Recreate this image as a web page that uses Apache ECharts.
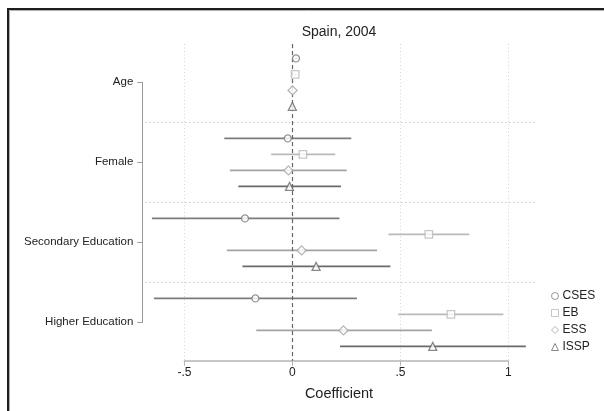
<!DOCTYPE html>
<html>
<head>
<meta charset="utf-8">
<script src="https://cdn.jsdelivr.net/npm/echarts@6/dist/echarts.min.js"></script>
<style>html,body{margin:0;padding:0;background:#fff}#c{width:604px;height:411px}</style>
</head>
<body>
<div id="c"></div>
<script>
// Variables (groups, top to bottom) and surveys (within each group)
const variables = ['Age', 'Female', 'Secondary Education', 'Higher Education'];
const surveys = ['CSES', 'EB', 'ESS', 'ISSP'];
// [coefficient, lower CI, upper CI] per variable
const CSES = [[0.017, 0.011, 0.023], [-0.021, -0.315, 0.273], [-0.219, -0.650, 0.218], [-0.171, -0.641, 0.299]];
const EB   = [[0.013, 0.007, 0.019], [0.049, -0.098, 0.199], [0.632, 0.445, 0.819], [0.734, 0.490, 0.977]];
const ESS  = [[0.001, -0.004, 0.006], [-0.018, -0.289, 0.252], [0.043, -0.303, 0.392], [0.237, -0.167, 0.646]];
const ISSP = [[0.000, -0.005, 0.005], [-0.013, -0.250, 0.225], [0.110, -0.231, 0.454], [0.650, 0.221, 1.081]];
const xTicks = [-0.5, 0, 0.5, 1];
const xTickLabels = ['-.5', '0', '.5', '1'];

const surveyData = [CSES, EB, ESS, ISSP];
const colors = ['#7c7c7c', '#b9b9b9', '#a3a3a3', '#6a6a6a'];
const symbols = ['circle', 'rect', 'diamond', 'triangle'];
const symSizes = [7, 7.5, 9, 8];
const slot = surveys.length + 1;

const series = [];
surveyData.forEach((arr, s) => {
  const pts = arr.map((d, v) => [d[0], v * slot + s, d[1], d[2]]);
  series.push({
    type: 'custom', name: surveys[s] + '_ci', xAxisIndex: 0, yAxisIndex: 0, z: 2,
    data: pts, encode: {x: [2, 3], y: 1}, silent: true,
    renderItem: function (params, api) {
      const a = api.coord([api.value(2), api.value(1)]);
      const b = api.coord([api.value(3), api.value(1)]);
      return {type: 'line', shape: {x1: a[0], y1: a[1], x2: b[0], y2: b[1]},
        style: {stroke: colors[s], lineWidth: 1.6}};
    }
  });
  series.push({
    type: 'scatter', name: surveys[s], xAxisIndex: 0, yAxisIndex: 0, z: 5,
    symbol: symbols[s], symbolSize: symSizes[s],
    itemStyle: {color: '#fff', borderColor: colors[s], borderWidth: 1.3},
    data: pts.map(p => [p[0], p[1]])
  });
});
// separators between groups and dashed zero line
const seps = variables.slice(1).map((_, i) => ({yAxis: (i + 1) * slot - 1}));
series.push({
  type: 'scatter', xAxisIndex: 0, yAxisIndex: 0, data: [], silent: true,
  markLine: {symbol: 'none', silent: true, label: {show: false},
    lineStyle: {color: '#c8c8c8', type: [1.5, 2.5], width: 1},
    data: seps}
});
series.push({
  type: 'scatter', xAxisIndex: 0, yAxisIndex: 0, data: [], silent: true, z: 3,
  markLine: {symbol: 'none', silent: true, label: {show: false},
    lineStyle: {color: '#666', type: [4, 3], width: 1.2},
    data: [{xAxis: 0}]}
});

const chart = echarts.init(document.getElementById('c'), null, {renderer: 'canvas'});
const font = 'Liberation Sans, Arial, sans-serif';
chart.setOption({
  animation: false,
  textStyle: {fontFamily: font},
  grid: [
    {left: 145, right: 68, top: 44, height: 316.8},
    {left: 184.4, width: 324, top: 44, height: 316.8},
    {left: 142.3, width: 10, top: 82.3, height: 240}
  ],
  xAxis: [
    {gridIndex: 0, type: 'value', min: -0.682, max: 1.128, show: false},
    {gridIndex: 1, type: 'value', min: xTicks[0], max: xTicks[xTicks.length - 1], interval: 0.5,
      axisLine: {show: true, lineStyle: {color: '#b5b5b5', width: 1.5}},
      axisTick: {show: true, length: 5, lineStyle: {color: '#b5b5b5', width: 1}},
      axisLabel: {color: '#222', fontSize: 12, margin: 6,
        formatter: v => xTickLabels[xTicks.findIndex(t => Math.abs(t - v) < 1e-9)] || ''},
      splitLine: {show: true, lineStyle: {color: '#d6d6d6', type: [1, 2.5], width: 1}}},
    {gridIndex: 2, type: 'value', show: false}
  ],
  yAxis: [
    {gridIndex: 0, type: 'value', min: -0.9, max: 18.9, inverse: true, show: false},
    {gridIndex: 1, type: 'value', show: false},
    {gridIndex: 2, type: 'category', data: variables, inverse: true, boundaryGap: false,
      axisLine: {show: true, lineStyle: {color: '#9a9a9a', width: 1}},
      axisTick: {show: true, length: 5, lineStyle: {color: '#9a9a9a'}},
      axisLabel: {color: '#222', fontSize: 11.5, margin: 9},
      splitLine: {show: false}}
  ],
  legend: {
    orient: 'vertical', left: 546, top: 285, itemGap: 5, itemWidth: 7, itemHeight: 7,
    data: surveys, textStyle: {fontSize: 12, color: '#222', fontFamily: font, padding: [0, 0, 0, -1]},
    itemStyle: {borderWidth: 1}
  },
  graphic: [
    {type: 'rect', shape: {x: 8, y: 9, width: 700, height: 500}, style: {fill: 'none', stroke: '#1e1e1e', lineWidth: 2}, silent: true},
    {type: 'rect', shape: {x: 9.5, y: 10.5, width: 700, height: 500}, style: {fill: 'none', stroke: '#b0b0b0', lineWidth: 1}, silent: true},
    {type: 'text', x: 339, y: 32, style: {text: 'Spain, 2004', align: 'center', verticalAlign: 'middle', fontSize: 14, fill: '#222', fontFamily: font}},
    {type: 'text', x: 339, y: 394, style: {text: 'Coefficient', align: 'center', verticalAlign: 'middle', fontSize: 14.5, fill: '#222', fontFamily: font}}
  ],
  series: series
});
</script>
</body>
</html>
